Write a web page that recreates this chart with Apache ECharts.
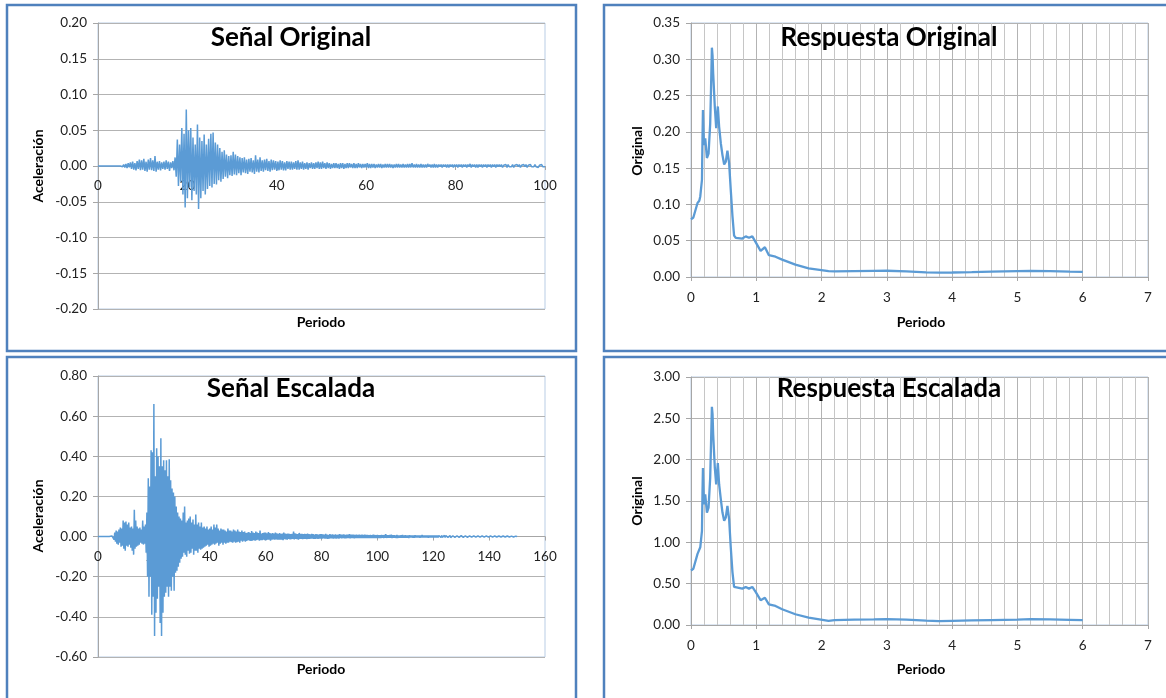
<!DOCTYPE html>
<html><head><meta charset="utf-8">
<script src="https://cdn.jsdelivr.net/npm/echarts@6/dist/echarts.min.js"></script>
<style>html,body{margin:0;padding:0;background:#fff}#c{width:1166px;height:698px}</style>
</head><body><div id="c"></div>
<script>
// sampling step of the signals (s)
const DT = 0.25;
// Señal Original, t = 0 .. 100 s (rows of 5 s)
const senalOriginal = [
0,0,0,0,0,0,0,0,0,0,0,0,0,0,0,0,0,0,0,0,
0,0.001,-0.001,0.002,-0.002,0.003,-0.003,0.004,-0.002,0.005,-0.004,0.006,-0.005,0.004,-0.006,0.007,-0.004,0.009,-0.006,0.008,
-0.005,0.010,-0.007,0.006,-0.008,0.009,-0.005,0.011,-0.006,0.008,-0.007,0.014,-0.008,0.006,-0.005,0.007,-0.006,0.005,-0.004,0.006,
-0.005,0.008,-0.004,0.006,-0.007,0.005,-0.003,0.007,-0.006,0.012,-0.015,0.037,-0.028,0.030,-0.022,0.053,-0.040,0.045,-0.058,0.079,
-0.045,0.050,-0.030,0.053,-0.048,0.040,-0.035,0.030,-0.040,0.058,-0.060,0.040,-0.045,0.035,-0.035,0.044,-0.040,0.030,-0.032,0.038,
-0.028,0.045,-0.030,0.047,-0.025,0.033,-0.026,0.030,-0.020,0.025,-0.022,0.020,-0.018,0.022,-0.015,0.016,-0.017,0.014,-0.013,0.015,
-0.014,0.020,-0.012,0.016,-0.013,0.014,-0.010,0.012,-0.013,0.011,-0.009,0.012,-0.010,0.009,-0.011,0.010,-0.008,0.011,-0.009,0.008,
-0.011,0.015,-0.008,0.009,-0.009,0.012,-0.007,0.008,-0.008,0.009,-0.006,0.010,-0.007,0.007,-0.008,0.009,-0.006,0.008,-0.005,0.007,
-0.007,0.006,-0.006,0.008,-0.005,0.007,-0.006,0.005,-0.006,0.007,-0.004,0.006,-0.005,0.006,-0.005,0.005,-0.004,0.007,-0.005,0.008,
-0.005,0.005,-0.004,0.006,-0.005,0.004,-0.004,0.005,-0.005,0.004,-0.003,0.005,-0.004,0.004,-0.004,0.005,-0.003,0.006,-0.004,0.005,
-0.004,0.006,-0.003,0.004,-0.004,0.005,-0.003,0.004,-0.004,0.003,-0.003,0.004,-0.003,0.004,-0.003,0.003,-0.004,0.004,-0.003,0.004,
-0.004,0.003,-0.003,0.004,-0.003,0.004,-0.002,0.003,-0.003,0.004,-0.003,0.003,-0.003,0.004,-0.002,0.003,-0.003,0.003,-0.002,0.003,
-0.002,0.004,-0.003,0.003,-0.003,0.003,-0.002,0.003,-0.003,0.002,-0.002,0.003,-0.002,0.003,-0.003,0.002,-0.002,0.003,-0.002,0.003,
-0.002,0.003,-0.002,0.002,-0.003,0.002,-0.002,0.003,-0.002,0.003,-0.002,0.002,-0.002,0.003,-0.002,0.002,-0.002,0.003,-0.002,0.003,
-0.002,0.004,-0.002,0.002,-0.002,0.003,-0.002,0.002,-0.002,0.003,-0.002,0.002,-0.002,0.002,-0.002,0.003,-0.001,0.002,-0.002,0.002,
-0.002,0.003,-0.002,0.002,-0.002,0.002,-0.001,0.002,-0.002,0.002,-0.001,0.002,-0.002,0.002,-0.002,0.002,-0.001,0.002,-0.002,0.002,
-0.001,0.002,-0.002,0.002,-0.001,0.002,-0.002,0.002,-0.001,0.002,-0.002,0.002,-0.001,0.003,-0.002,0.002,-0.001,0.002,-0.002,0.002,
-0.002,0.002,-0.001,0.002,-0.002,0.002,-0.001,0.002,-0.002,0.002,-0.001,0.002,-0.002,0.002,-0.001,0.002,-0.002,0.002,-0.001,0.002,
-0.001,0.002,-0.002,0.001,-0.001,0.002,-0.002,0.002,-0.001,0.001,-0.001,0.002,-0.002,0.001,-0.001,0.002,-0.001,0.002,-0.002,0.001,
-0.001,0.002,-0.001,0.002,-0.002,0.001,-0.001,0.002,-0.001,0.001,-0.001,0.002,-0.001,0.001,-0.002,0.001,-0.001,0.002,-0.001,0.001,
-0.001
];
// Señal Escalada, t = 0 .. 150 s (rows of 5 s)
const senalEscalada = [
0,0,0,0,0,0,0,0,0,0,0,0,0,0,0,0,0,0,0,0,
0.003,-0.005,0.010,-0.015,0.020,-0.025,0.030,-0.035,0.025,-0.040,0.035,-0.030,0.045,-0.050,0.040,-0.045,0.080,-0.060,0.070,-0.070,
0.075,-0.045,0.060,-0.050,0.070,-0.040,0.045,-0.055,0.050,-0.070,0.040,-0.090,0.133,-0.060,0.080,-0.050,0.050,-0.045,0.040,-0.040,
0.045,-0.030,0.035,-0.035,0.080,-0.040,0.050,-0.035,0.060,-0.080,0.120,-0.200,0.290,-0.300,0.250,-0.200,0.430,-0.390,0.420,-0.300,
0.660,-0.495,0.300,-0.380,0.440,-0.310,0.400,-0.250,0.350,-0.430,0.490,-0.495,0.350,-0.380,0.380,-0.300,0.330,-0.280,0.380,-0.250,
0.300,-0.300,0.385,-0.250,0.280,-0.270,0.240,-0.200,0.220,-0.270,0.200,-0.180,0.150,-0.170,0.120,-0.150,0.100,-0.130,0.090,-0.110,
0.080,-0.100,0.120,-0.080,0.150,-0.090,0.070,-0.100,0.080,-0.070,0.090,-0.085,0.100,-0.080,0.070,-0.060,0.085,-0.090,0.060,-0.070,
0.110,-0.070,0.060,-0.080,0.070,-0.060,0.050,-0.065,0.070,-0.060,0.045,-0.055,0.050,-0.050,0.040,-0.045,0.050,-0.040,0.035,-0.050,
0.040,-0.045,0.050,-0.040,0.035,-0.035,0.060,-0.040,0.045,-0.035,0.060,-0.030,0.040,-0.045,0.030,-0.035,0.040,-0.030,0.035,-0.040,
0.035,-0.030,0.030,-0.035,0.025,-0.030,0.040,-0.030,0.030,-0.025,0.030,-0.028,0.025,-0.030,0.035,-0.025,0.030,-0.030,0.025,-0.028,
0.035,-0.025,0.025,-0.030,0.022,-0.020,0.030,-0.025,0.022,-0.020,0.025,-0.025,0.018,-0.022,0.020,-0.018,0.022,-0.020,0.018,-0.022,
0.028,-0.020,0.020,-0.018,0.018,-0.020,0.025,-0.018,0.020,-0.016,0.018,-0.020,0.030,-0.018,0.015,-0.018,0.018,-0.016,0.020,-0.018,
0.020,-0.018,0.016,-0.015,0.022,-0.015,0.018,-0.020,0.015,-0.016,0.018,-0.014,0.015,-0.016,0.020,-0.014,0.016,-0.015,0.014,-0.016,
0.018,-0.015,0.014,-0.016,0.015,-0.018,0.020,-0.013,0.015,-0.014,0.013,-0.016,0.015,-0.012,0.014,-0.014,0.012,-0.013,0.014,-0.012,
0.025,-0.014,0.016,-0.012,0.014,-0.013,0.012,-0.015,0.018,-0.012,0.013,-0.012,0.014,-0.013,0.012,-0.012,0.013,-0.011,0.012,-0.013,
0.015,-0.011,0.012,-0.012,0.011,-0.010,0.013,-0.010,0.012,-0.011,0.010,-0.011,0.012,-0.010,0.011,-0.012,0.010,-0.010,0.012,-0.010,
0.012,-0.010,0.011,-0.009,0.010,-0.010,0.014,-0.010,0.010,-0.011,0.009,-0.010,0.012,-0.009,0.010,-0.009,0.011,-0.010,0.009,-0.009,
0.011,-0.010,0.009,-0.009,0.010,-0.010,0.012,-0.008,0.009,-0.009,0.010,-0.008,0.011,-0.009,0.008,-0.009,0.010,-0.008,0.009,-0.008,
0.012,-0.009,0.009,-0.008,0.009,-0.008,0.010,-0.009,0.008,-0.008,0.009,-0.008,0.008,-0.008,0.009,-0.007,0.008,-0.008,0.009,-0.007,
0.008,-0.008,0.009,-0.007,0.008,-0.007,0.008,-0.008,0.007,-0.007,0.008,-0.007,0.007,-0.007,0.009,-0.007,0.008,-0.007,0.007,-0.007,
0.008,-0.007,0.007,-0.007,0.007,-0.008,0.008,-0.006,0.007,-0.007,0.008,-0.006,0.012,-0.007,0.007,-0.006,0.007,-0.006,0.008,-0.006,
0.010,-0.007,0.007,-0.006,0.007,-0.006,0.006,-0.007,0.008,-0.007,0.006,-0.006,0.006,-0.006,0.007,-0.006,0.008,-0.006,0.006,-0.006,
0.007,-0.006,0.006,-0.006,0.006,-0.007,0.007,-0.005,0.006,-0.005,0.006,-0.006,0.006,-0.006,0.007,-0.005,0.006,-0.005,0.005,-0.005,
0.006,-0.006,0.006,-0.005,0.008,-0.005,0.006,-0.005,0.006,-0.005,0.005,-0.005,0.005,-0.006,0.006,-0.005,0.006,-0.005,0.005,-0.005,
0.006,-0.005,0.005,-0.005,0.005,-0.005,0.006,-0.005,0.005,-0.004,0.005,-0.005,0.006,-0.004,0.005,-0.005,0.006,-0.005,0.005,-0.004,
0.005,-0.004,0.005,-0.004,0.005,-0.005,0.004,-0.004,0.004,-0.004,0.005,-0.004,0.005,-0.004,0.004,-0.004,0.004,-0.004,0.005,-0.004,
0.005,-0.004,0.004,-0.004,0.004,-0.004,0.004,-0.004,0.007,-0.004,0.004,-0.004,0.004,-0.003,0.004,-0.003,0.004,-0.004,0.004,-0.003,
0.004,-0.003,0.004,-0.003,0.004,-0.004,0.003,-0.003,0.003,-0.003,0.004,-0.003,0.003,-0.003,0.004,-0.003,0.003,-0.003,0.003,-0.003,
0.004,-0.003,0.003,-0.003,0.003,-0.003,0.003,-0.003,0.003,-0.003,0.003,-0.002,0.003,-0.002,0.003,-0.003,0.003,-0.002,0.003,-0.002,
0.003,-0.002,0.003,-0.002,0.002,-0.002,0.003,-0.002,0.002,-0.002,0.002,-0.002,0.002,-0.002,0.002,-0.002,0.002,-0.002,0.002,-0.001,
0.000
];
// Response spectra
const periodos = [0,0.036,0.066,0.10,0.127,0.142,0.168,0.176,0.183,0.198,0.218,0.244,0.269,0.294,0.307,0.320,0.330,0.340,0.365,0.386,0.411,0.431,0.457,0.482,0.508,0.533,0.558,0.584,0.609,0.635,0.660,0.685,0.787,0.838,0.888,0.939,0.990,1.066,1.132,1.193,1.294,1.396,1.599,1.802,2.107,2.2,2.5,2.8,3.0,3.3,3.6,3.8,4.0,4.3,4.6,5.0,5.2,5.5,5.8,6.0];
const respOriginal = [0.0795,0.082,0.084,0.102,0.105,0.111,0.134,0.190,0.230,0.182,0.191,0.164,0.170,0.211,0.260,0.316,0.305,0.280,0.234,0.205,0.235,0.207,0.184,0.168,0.155,0.159,0.174,0.157,0.120,0.084,0.057,0.054,0.053,0.056,0.054,0.056,0.048,0.036,0.041,0.030,0.028,0.024,0.017,0.012,0.008,0.0078,0.0082,0.0085,0.0086,0.0078,0.0065,0.0060,0.0062,0.0068,0.0075,0.0082,0.0085,0.0082,0.0075,0.0072];
const respEscalada = [0.66,0.68,0.70,0.86,0.87,0.94,1.14,1.60,1.90,1.46,1.58,1.36,1.42,1.78,2.20,2.64,2.55,2.30,1.90,1.70,1.96,1.70,1.52,1.36,1.26,1.30,1.44,1.28,0.94,0.64,0.46,0.44,0.44,0.46,0.44,0.46,0.40,0.30,0.33,0.25,0.23,0.19,0.13,0.09,0.05,0.058,0.066,0.068,0.070,0.064,0.052,0.047,0.050,0.055,0.060,0.066,0.070,0.068,0.062,0.058];

const FONT = 'Lato';
const LINE = '#5b9bd5';
const AXIS = '#a6a6a6';
const GRIDC = '#b3b3b3';
const LBL = 13.5;
const fmt2 = v => (Math.abs(v) < 1e-9 ? 0 : v).toFixed(2);

const gridBoxes = [
  {left:98, top:23, width:447, height:286},
  {left:691, top:23, width:457, height:254},
  {left:98, top:376, width:447, height:281},
  {left:691, top:377, width:457, height:248}
];
const grids = gridBoxes.map(g => Object.assign({show:true, borderColor:'#b9cde5', borderWidth:1, outerBoundsMode:'none', containLabel:false}, g));

function yAx(gi, min, max, interval) {
  return {type:'value', gridIndex:gi, min, max, interval,
    axisLine:{show:true, onZero:false, lineStyle:{color:AXIS}},
    axisTick:{show:true, length:5, lineStyle:{color:AXIS}},
    axisLabel:{formatter:fmt2, fontFamily:FONT, fontSize:LBL, color:'#222', margin:11},
    splitLine:{show:true, lineStyle:{color:GRIDC}}};
}
// signal x axis: drawn along the zero line of the y axis
function xSignal(gi, max, interval, ymin, ymax) {
  const off = -gridBoxes[gi].height * (0 - ymin) / (ymax - ymin);
  return {type:'value', gridIndex:gi, min:0, max, interval, position:'bottom', offset:off,
    axisLine:{show:true, onZero:false, lineStyle:{color:AXIS}},
    axisTick:{show:true, length:4, lineStyle:{color:AXIS}},
    axisLabel:{fontFamily:FONT, fontSize:LBL, color:'#222', margin:13, showMinLabel:true, showMaxLabel:true},
    splitLine:{show:false}};
}
function xResp(gi) {
  return {type:'value', gridIndex:gi, min:0, max:7, interval:1,
    axisLine:{show:true, onZero:false, lineStyle:{color:AXIS}},
    axisTick:{show:true, length:4, lineStyle:{color:AXIS}},
    axisLabel:{fontFamily:FONT, fontSize:LBL, color:'#222', margin:14, showMinLabel:true, showMaxLabel:true},
    minorTick:{show:false, splitNumber:5},
    splitLine:{show:true, lineStyle:{color:GRIDC}},
    minorSplitLine:{show:true, lineStyle:{color:'#c6c6c6'}}};
}
function lineSeries(i, data, w) {
  return {type:'line', xAxisIndex:i, yAxisIndex:i, data, symbol:'none', showSymbol:false,
    lineStyle:{width:w, color:LINE}, itemStyle:{color:LINE}, sampling:null, animation:false, z:3};
}
function txt(text, x, y, size, rot) {
  return {type:'text', x, y, rotation: rot ? Math.PI/2 : 0, silent:true, z:10,
    style:{text, font:'bold ' + size + 'px ' + FONT, fill:'#000', textAlign:'center', textVerticalAlign:'middle'}};
}
function box(x, y, w, h) {
  return {type:'rect', silent:true, z:0, shape:{x, y, width:w, height:h},
    style:{fill:'none', stroke:'#4f81bd', lineWidth:2.5}};
}

const chart = echarts.init(document.getElementById('c'), null, {renderer:'canvas'});
chart.setOption({
  animation:false,
  backgroundColor:'#ffffff',
  grid: grids,
  xAxis: [xSignal(0, 100, 20, -0.2, 0.2), xResp(1), xSignal(2, 160, 20, -0.6, 0.8), xResp(3)],
  yAxis: [yAx(0, -0.2, 0.2, 0.05), yAx(1, 0, 0.35, 0.05), yAx(2, -0.6, 0.8, 0.2), yAx(3, 0, 3, 0.5)],
  series: [
    lineSeries(0, senalOriginal.map((v, i) => [i * DT, v]), 1.5),
    lineSeries(1, periodos.map((p, i) => [p, respOriginal[i]]), 2.3),
    lineSeries(2, senalEscalada.map((v, i) => [i * DT, v]), 1.5),
    lineSeries(3, periodos.map((p, i) => [p, respEscalada[i]]), 2.3)
  ],
  graphic: [
    box(7, 5, 569, 346), box(604, 5, 566, 346), box(7, 357, 569, 346), box(604, 357, 566, 346),
    txt('Señal Original', 291, 38, 26), txt('Respuesta Original', 889, 38, 26),
    txt('Señal Escalada', 291, 389, 26), txt('Respuesta Escalada', 889, 389, 26),
    txt('Aceleración', 38, 166, 14, true), txt('Original', 637, 151, 14, true),
    txt('Aceleración', 38, 516, 14, true), txt('Original', 637, 501, 14, true),
    txt('Periodo', 321, 322, 14), txt('Periodo', 921, 322, 14),
    txt('Periodo', 321, 669, 14), txt('Periodo', 921, 669, 14)
  ]
});
</script>
</body></html>
